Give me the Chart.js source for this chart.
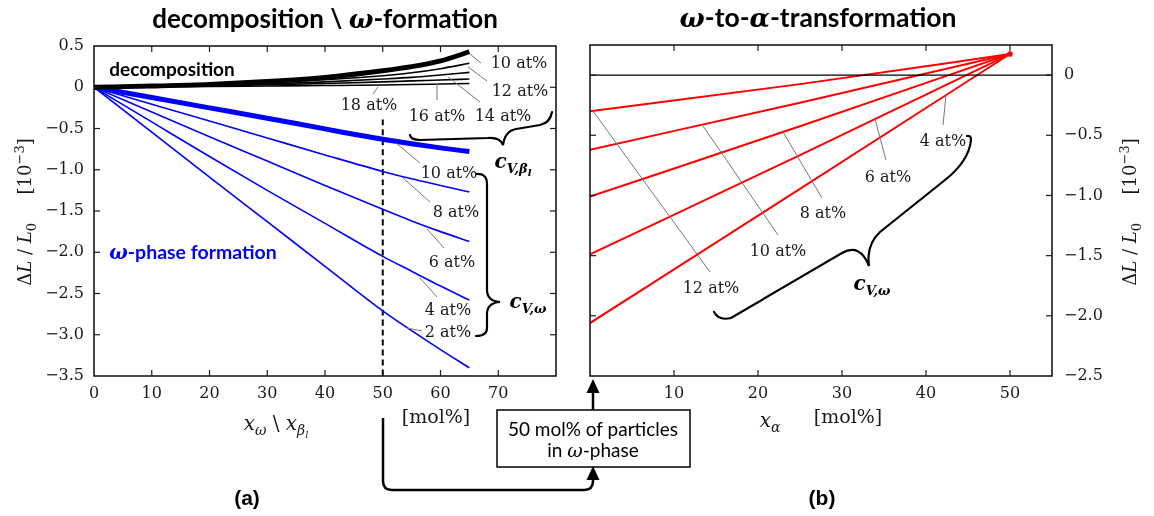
<!DOCTYPE html>
<html><head><meta charset="utf-8">
<script src="https://cdn.jsdelivr.net/npm/chart.js@4.4.1/dist/chart.umd.min.js"></script>
<style>
body{margin:0;width:1154px;height:516px;background:#fff;position:relative;overflow:hidden}
canvas{position:absolute;top:0}
#ov{position:absolute;left:0;top:0;pointer-events:none}
.t{position:absolute;white-space:nowrap;transform:translate(-50%,-50%);line-height:1}
.lab{font-family:'DejaVu Serif',serif;font-size:16px;color:#1a1a1a}
.sans{font-family:'Lato','Liberation Sans',sans-serif;font-weight:bold;color:#000}
.m{font-family:'DejaVu Serif',serif;font-style:italic}
.yt{font-family:'DejaVu Serif',serif;font-size:18px;color:#1a1a1a;transform:translate(-50%,-50%) rotate(-90deg)}
.xt{font-family:'DejaVu Serif',serif;font-size:19px;color:#1a1a1a}
.cl{font-family:'DejaVu Serif',serif;font-weight:bold;font-style:italic;font-size:20px;color:#000}
sub,sup{line-height:0}
</style></head><body>
<canvas id="ca" width="580" height="410" style="left:0"></canvas>
<canvas id="cb" width="574" height="410" style="left:580px"></canvas>
<svg id="ov" width="1154" height="516" xmlns="http://www.w3.org/2000/svg">
 <g stroke="#777" stroke-width="1" fill="none">
  <line x1="470" y1="54" x2="481" y2="63"/>
  <line x1="468" y1="67" x2="487" y2="81"/>
  <line x1="448" y1="77" x2="480" y2="102"/>
  <line x1="437" y1="83" x2="437" y2="100"/>
  <line x1="378" y1="87" x2="373" y2="94"/>
  <line x1="396" y1="143" x2="420" y2="163"/>
  <line x1="402" y1="177" x2="430" y2="202"/>
  <line x1="427" y1="229" x2="444" y2="248"/>
  <line x1="420" y1="278" x2="437" y2="297"/>
  <line x1="407" y1="328" x2="422" y2="331"/>
  <line x1="593" y1="111" x2="710" y2="272"/>
  <line x1="703" y1="126" x2="778" y2="235"/>
  <line x1="783" y1="132" x2="822" y2="198"/>
  <line x1="875" y1="119" x2="886" y2="160"/>
  <line x1="946" y1="95" x2="943" y2="125"/>
 </g>
 <g stroke="#000" stroke-width="2.2" fill="none" stroke-linecap="round">
  <path d="M410,135 Q411,140 420,140 L488,138 Q500,137 503,145 Q505,131 516,129 L540,125 Q550,123 552,112"/>
  <path d="M476,174 Q487,173 487,184 L487,290 Q487,301 500,302 Q487,303 487,314 L487,328 Q487,336 476,336"/>
  <path d="M714,312 Q719,321 731,318 L842,253 Q860,243 869,266 Q866,245 880,232 L945,180 Q969,161 971,140 Q971,135 967,136"/>
 </g>
 <g stroke="#000" stroke-width="2.5" fill="none">
  <line x1="593" y1="410" x2="593" y2="392"/>
  <path d="M383,418 L383,481 Q383,490 392,490 L584,490 Q593,490 593,481 L593,479"/>
 </g>
 <polygon points="586.5,393 599.5,393 593,379" fill="#000"/>
 <polygon points="586.5,480 599.5,480 593,466" fill="#000"/>
 <rect x="497" y="410" width="193" height="57" fill="#fff" stroke="#000" stroke-width="1.5"/>
</svg>

<div class="t sans" style="left:325px;top:18px;font-size:26px">decomposition \ <span class="m" style="font-weight:bold">ω</span>-formation</div>
<div class="t sans" style="left:818px;top:18px;font-size:26.5px"><span class="m" style="font-weight:bold">ω</span>-to-<span class="m" style="font-weight:bold">α</span>-transformation</div>
<div class="t sans" style="left:172px;top:68px;font-size:19px">decomposition</div>
<div class="t sans" style="left:193px;top:252px;font-size:19.5px;color:#0000ff"><span class="m" style="font-weight:bold">ω</span>-phase formation</div>

<div class="t lab" style="left:519px;top:63px">10 at%</div>
<div class="t lab" style="left:520px;top:91px">12 at%</div>
<div class="t lab" style="left:503px;top:116px">14 at%</div>
<div class="t lab" style="left:437px;top:116px">16 at%</div>
<div class="t lab" style="left:369px;top:105px">18 at%</div>
<div class="t lab" style="left:449px;top:173px">10 at%</div>
<div class="t lab" style="left:456px;top:212px">8 at%</div>
<div class="t lab" style="left:452px;top:262px">6 at%</div>
<div class="t lab" style="left:448px;top:310px">4 at%</div>
<div class="t lab" style="left:448px;top:332px">2 at%</div>
<div class="t lab" style="left:711px;top:288px">12 at%</div>
<div class="t lab" style="left:778px;top:251px">10 at%</div>
<div class="t lab" style="left:823px;top:213px">8 at%</div>
<div class="t lab" style="left:888px;top:177px">6 at%</div>
<div class="t lab" style="left:943px;top:141px">4 at%</div>

<div class="t cl" style="left:513px;top:162px">c<sub style="font-size:13px">V,β<sub style="font-size:10px">l</sub></sub></div>
<div class="t cl" style="left:528px;top:301px">c<sub style="font-size:13px">V,ω</sub></div>
<div class="t cl" style="left:872px;top:283px">c<sub style="font-size:13px">V,ω</sub></div>

<div class="t yt" style="left:25px;top:212px">Δ<i>L</i> / <i>L</i><sub style="font-size:13px">0</sub>&nbsp;&nbsp;&nbsp;&nbsp;&nbsp;[10<sup style="font-size:13px">−3</sup>]</div>
<div class="t yt" style="left:1130px;top:212px">Δ<i>L</i> / <i>L</i><sub style="font-size:13px">0</sub>&nbsp;&nbsp;&nbsp;&nbsp;&nbsp;[10<sup style="font-size:13px">−3</sup>]</div>
<div class="t xt" style="left:276px;top:424px;font-size:20px"><i>x</i><sub style="font-size:14px"><i>ω</i></sub> \ <i>x</i><sub style="font-size:14px"><i>β<sub style="font-size:10px">l</sub></i></sub></div>
<div class="t xt" style="left:436px;top:416px">[mol%]</div>
<div class="t xt" style="left:770px;top:420px;font-size:20px"><i>x</i><sub style="font-size:14px"><i>α</i></sub></div>
<div class="t xt" style="left:848px;top:416px">[mol%]</div>

<div class="t sans" style="left:593px;top:428px;font-size:19px;font-weight:normal">50 mol% of particles</div>
<div class="t sans" style="left:593px;top:450px;font-size:19px;font-weight:normal">in <span class="m" style="font-weight:normal">ω</span>-phase</div>
<div class="t" style="left:247px;top:497px;font-family:'Liberation Sans',sans-serif;font-weight:bold;font-size:21px">(a)</div>
<div class="t" style="left:822px;top:497px;font-family:'Liberation Sans',sans-serif;font-weight:bold;font-size:21px">(b)</div>

<script>
// ---- data (a) ----
const xDec = [0,10,20,30,40,50,55,60,65];
const dec10 = [0,0.015,0.035,0.07,0.12,0.2,0.25,0.32,0.43];
const dec12 = [0,0.012,0.03,0.055,0.09,0.14,0.175,0.225,0.29];
const dec14 = [0,0.01,0.022,0.04,0.065,0.1,0.12,0.148,0.18];
const dec16 = [0,0.008,0.017,0.03,0.045,0.065,0.077,0.088,0.10];
const dec18 = [0,0.004,0.009,0.015,0.021,0.028,0.033,0.039,0.045];
const om10 = [0,-0.125,-0.25,-0.375,-0.505,-0.63,-0.685,-0.735,-0.78];
const om8  = [0,-0.205,-0.41,-0.615,-0.82,-1.02,-1.11,-1.19,-1.27];
const om6  = [0,-0.30,-0.60,-0.895,-1.19,-1.48,-1.62,-1.75,-1.87];
const om4  = [0,-0.42,-0.84,-1.25,-1.65,-2.05,-2.23,-2.41,-2.58];
const om2  = [0,-0.545,-1.09,-1.63,-2.17,-2.71,-2.95,-3.18,-3.40];
const markX = [50,50];
const markY = [-0.39,-3.5];
const xTicksA = [0,10,20,30,40,50,60,70];
const yTicksA = [0.5,0,-0.5,-1.0,-1.5,-2.0,-2.5,-3.0,-3.5];
// ---- data (b) ----
const xAlpha = [0,25,50];
const al12 = [-0.30,-0.075,0.175];
const al10 = [-0.62,-0.23,0.175];
const al8  = [-1.01,-0.425,0.175];
const al6  = [-1.49,-0.665,0.175];
const al4  = [-2.06,-0.945,0.175];
const endPt = [50,0.175];
const zeroX = [0,55];
const zeroY = [0,0];
const xTicksB = [10,20,30,40,50];
const yTicksB = [0,-0.5,-1.0,-1.5,-2.0,-2.5];

const pts = (xs,ys)=>xs.map((x,i)=>({x,y:ys[i]}));
const fmt = v => v===0 ? '0' : (v<0?'\u2212':'') + Math.abs(v).toFixed(1);
const tickFont = {family:'DejaVu Serif', size:16};

const frame = {
  id:'frame',
  afterDatasetsDraw(chart){
    const {ctx, chartArea:a, scales} = chart;
    ctx.save();
    ctx.strokeStyle='#1a1a1a';
    ctx.lineWidth=1.2;
    const L=6;
    const seg=(x1,y1,x2,y2)=>{ctx.beginPath();ctx.moveTo(x1,y1);ctx.lineTo(x2,y2);ctx.stroke();};
    scales.x.ticks.forEach(t=>{const p=scales.x.getPixelForValue(t.value); if(p<a.left+2||p>a.right-2) return; seg(p,a.bottom,p,a.bottom-L); seg(p,a.top,p,a.top+L);});
    scales.y.ticks.forEach(t=>{const p=scales.y.getPixelForValue(t.value); if(p<a.top+2||p>a.bottom-2) return; seg(a.left,p,a.left+L,p); seg(a.right,p,a.right-L,p);});
    ctx.lineWidth=1.6;
    ctx.strokeRect(a.left,a.top,a.right-a.left,a.bottom-a.top);
    ctx.restore();
  }
};

const ln = (data,color,w,extra={}) => Object.assign({data, borderColor:color, borderWidth:w, pointRadius:0, fill:false, cubicInterpolationMode:'monotone'}, extra);

new Chart(document.getElementById('ca'), {
  type:'line',
  data:{datasets:[
    ln(pts(xDec,dec18),'#000',1.6),
    ln(pts(xDec,dec16),'#000',1.6),
    ln(pts(xDec,dec14),'#000',1.6),
    ln(pts(xDec,dec12),'#000',1.6),
    ln(pts(xDec,dec10),'#000',4.8),
    ln(pts(xDec,om2),'#0000ff',1.6),
    ln(pts(xDec,om4),'#0000ff',1.6),
    ln(pts(xDec,om6),'#0000ff',1.6),
    ln(pts(xDec,om8),'#0000ff',1.6),
    ln(pts(xDec,om10),'#0000ff',5),
    ln(pts(markX,markY),'#000',2,{borderDash:[6,4]})
  ]},
  options:{
    responsive:false, animation:false, devicePixelRatio:1,
    layout:{padding:{left:0,right:24,top:46,bottom:0}},
    plugins:{legend:{display:false},tooltip:{enabled:false}},
    scales:{
      x:{type:'linear',position:'bottom',min:0,max:80,
         afterBuildTicks:s=>{s.ticks=xTicksA.map(v=>({value:v}));},
         afterFit:s=>{s.height=34;},
         grid:{display:false,drawTicks:false}, border:{display:false},
         ticks:{padding:8,font:tickFont,color:'#1a1a1a',callback:v=>String(v),maxRotation:0}},
      y:{type:'linear',position:'left',min:-3.5,max:0.5,
         afterBuildTicks:s=>{s.ticks=yTicksA.map(v=>({value:v}));},
         afterFit:s=>{s.width=94;},
         grid:{display:false,drawTicks:false}, border:{display:false},
         ticks:{padding:10,font:tickFont,color:'#1a1a1a',callback:fmt}}
    }
  },
  plugins:[frame]
});

new Chart(document.getElementById('cb'), {
  type:'line',
  data:{datasets:[
    ln(pts(zeroX,zeroY),'#000',1.2),
    ln(pts(xAlpha,al12),'#ff0000',2),
    ln(pts(xAlpha,al10),'#ff0000',2),
    ln(pts(xAlpha,al8),'#ff0000',2),
    ln(pts(xAlpha,al6),'#ff0000',2),
    ln(pts(xAlpha,al4),'#ff0000',2),
    {data:[{x:endPt[0],y:endPt[1]}],showLine:false,pointRadius:2.8,pointBackgroundColor:'#ff0000',pointBorderWidth:0}
  ]},
  options:{
    responsive:false, animation:false, devicePixelRatio:1,
    layout:{padding:{left:10,right:0,top:45,bottom:0}},
    plugins:{legend:{display:false},tooltip:{enabled:false}},
    scales:{
      x:{type:'linear',position:'bottom',min:0,max:55,
         afterBuildTicks:s=>{s.ticks=xTicksB.map(v=>({value:v}));},
         afterFit:s=>{s.height=34;},
         grid:{display:false,drawTicks:false}, border:{display:false},
         ticks:{padding:8,font:tickFont,color:'#1a1a1a',callback:v=>String(v),maxRotation:0}},
      y:{type:'linear',position:'right',min:-2.5,max:0.25,
         afterBuildTicks:s=>{s.ticks=yTicksB.map(v=>({value:v}));},
         afterFit:s=>{s.width=102;},
         grid:{display:false,drawTicks:false}, border:{display:false},
         ticks:{padding:12,font:tickFont,color:'#1a1a1a',callback:fmt}}
    }
  },
  plugins:[frame]
});
</script>
</body></html>
